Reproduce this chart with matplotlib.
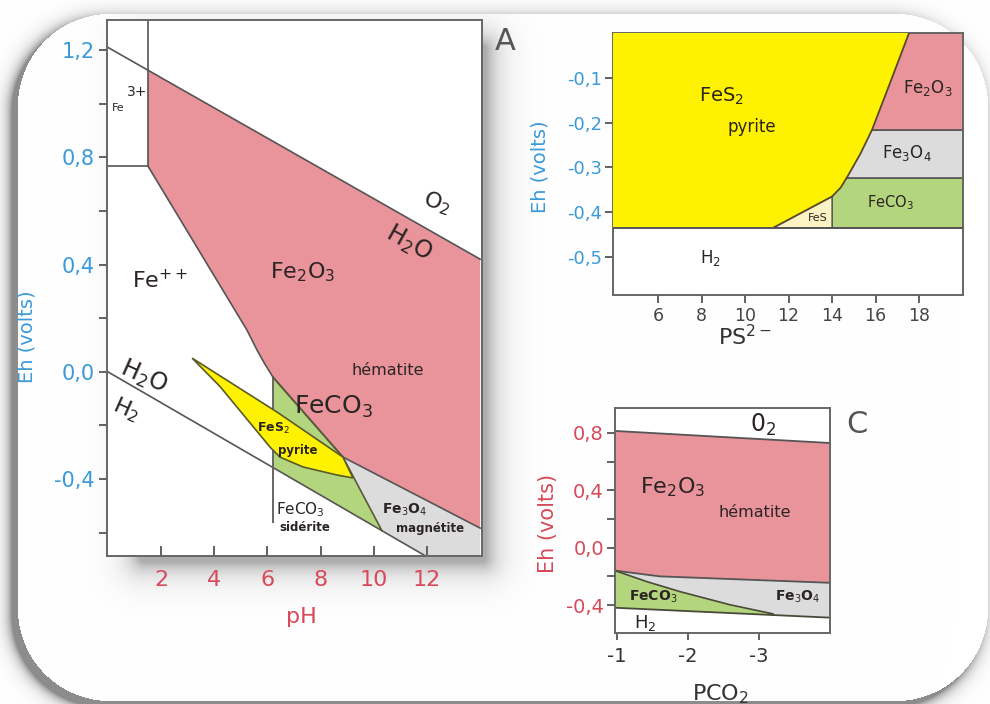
import numpy as np
import matplotlib
matplotlib.use("Agg")
import matplotlib.pyplot as plt

plt.rcParams["font.family"] = ["DejaVu Sans"]

# ---- colours
PINK = "#e8949a"
YELLOW = "#fff200"
GREEN = "#b3d57d"
GREY = "#dcdcdc"
CREAM = "#fcf3c4"
EDGE = "#555555"
BLUE = "#3a9ad9"
RED = "#d64a5a"
INK = "#2b2424"

# ---- panel A : Eh - pH
ph_o2 = [0.0, 14.0]
eh_o2 = [1.21, 0.42]
ph_h2 = [0.0, 14.0]
eh_h2 = [0.0, -0.805]
fe3_ph = 1.51
fe3_eh = 0.767
fe2_edge_ph = [1.51, 5.23, 5.61, 5.9, 6.21]
fe2_edge_eh = [0.767, 0.156, 0.081, 0.03, -0.02]
hem_low_ph = [6.21, 8.84, 14.0]
hem_low_eh = [-0.02, -0.318, -0.583]
sid_mag_ph = [8.84, 10.31]
sid_mag_eh = [-0.318, -0.593]
pyr_top_ph = [3.17, 6.36, 8.84, 9.22]
pyr_top_eh = [0.051, -0.150, -0.318, -0.396]
pyr_bot_ph = [3.17, 4.22, 6.10, 6.47, 7.34, 8.62, 9.22]
pyr_bot_eh = [0.051, -0.055, -0.281, -0.318, -0.355, -0.385, -0.396]
sid_line_ph = 6.21
sid_line_eh = [-0.02, -0.56]
ph_ticks = [2, 4, 6, 8, 10, 12]
a_eh_ticks = [1.2, 0.8, 0.4, 0.0, -0.4]
a_eh_labels = ["1,2", "0,8", "0,4", "0,0", "-0,4"]
a_eh_minor = [1.0, 0.6, 0.2, -0.2, -0.6]

# ---- panel B : Eh - PS2-
b_h2_eh = -0.435
b_fes2_ps = [11.29, 14.0, 14.4, 14.75, 15.3, 15.84, 16.67, 17.54]
b_fes2_eh = [-0.435, -0.365, -0.345, -0.317, -0.27, -0.216, -0.111, 0.0]
b_fes_ps = 14.0
b_hem_eh = -0.217
b_mag_eh = -0.323
ps_ticks = [6, 8, 10, 12, 14, 16, 18]
b_eh_ticks = [-0.1, -0.2, -0.3, -0.4, -0.5]
b_eh_labels = ["-0,1", "-0,2", "-0,3", "-0,4", "-0,5"]

# ---- panel C : Eh - PCO2
c_o2_pco2 = [-0.97, -4.0]
c_o2_eh = [0.814, 0.730]
c_hem_pco2 = [-0.97, -1.6, -4.0]
c_hem_eh = [-0.16, -0.20, -0.245]
c_sid_pco2 = [-0.97, -1.42, -1.89, -2.59, -3.20]
c_sid_eh = [-0.16, -0.237, -0.307, -0.398, -0.462]
c_h2_pco2 = [-0.97, -4.0]
c_h2_eh = [-0.419, -0.488]
pco2_ticks = [-1, -2, -3]
c_eh_ticks = [0.8, 0.4, 0.0, -0.4]
c_eh_labels = ["0,8", "0,4", "0,0", "-0,4"]
c_eh_minor = [0.6, 0.2, -0.2]

W, H = 990, 704
fig = plt.figure(figsize=(9.9, 7.04), dpi=100)


def px_rect(l, t, r, b):
    return [l / W, 1 - b / H, (r - l) / W, (b - t) / H]


def ftext(x, y, s, **kw):
    fig.text(x / W, 1 - y / H, s, ha="center", va="center", **kw)


def rr_dist(xx, yy, x0, y0, x1, y1, r):
    # signed distance to a rounded rectangle
    cx, cy = (x0 + x1) / 2, (y0 + y1) / 2
    qx = np.abs(xx - cx) - ((x1 - x0) / 2 - r)
    qy = np.abs(yy - cy) - ((y1 - y0) / 2 - r)
    out = np.hypot(np.maximum(qx, 0), np.maximum(qy, 0))
    return out + np.minimum(np.maximum(qx, qy), 0) - r


# ---- slide background: rounded card with soft shadows
yy, xx = np.mgrid[0:H, 0:W] + 0.5
d_card = rr_dist(xx, yy, 18, 14, 988, 701, 92)
d_cshadow = rr_dist(xx, yy, 12, 20, 982, 707, 92)
shade_card = 0.45 * np.exp(-np.maximum(d_cshadow, 0) / 6.0)
d_ashadow = rr_dist(xx, yy, 140, 45, 486, 562, 4)
shade_a = 0.32 * np.exp(-np.maximum(d_ashadow, 0) / 13.0)
light = np.where(d_card <= 0, 1 - shade_a, 1 - shade_card)
bg = np.dstack([light, light, light])

ax_bg = fig.add_axes([0, 0, 1, 1], zorder=-10)
ax_bg.imshow(bg, extent=[0, W, H, 0], aspect="auto", interpolation="bilinear")
ax_bg.axis("off")


def style_spines(ax):
    for s in ax.spines.values():
        s.set_color("#666666")
        s.set_linewidth(1.4)


# =================== panel A
axA = fig.add_axes(px_rect(107, 20, 482, 556))
axA.set_xlim(-0.03, 14.07)
axA.set_ylim(-0.687, 1.312)

o2_at_fe3 = np.interp(fe3_ph, ph_o2, eh_o2)
pink_x = [fe3_ph, ph_o2[1], ph_o2[1]] + hem_low_ph[::-1][1:] + fe2_edge_ph[::-1][1:]
pink_y = [o2_at_fe3, eh_o2[1], hem_low_eh[-1]] + hem_low_eh[::-1][1:] + fe2_edge_eh[::-1][1:]
axA.fill(pink_x, pink_y, color=PINK, lw=0)

h2_at_sid = np.interp(sid_line_ph, ph_h2, eh_h2)
axA.fill([sid_line_ph, hem_low_ph[1], sid_mag_ph[1], sid_line_ph],
         [hem_low_eh[0], hem_low_eh[1], sid_mag_eh[1], h2_at_sid], color=GREEN, lw=0)
axA.fill([hem_low_ph[1], hem_low_ph[2], ph_h2[1], sid_mag_ph[1]],
         [hem_low_eh[1], hem_low_eh[2], eh_h2[1], sid_mag_eh[1]], color=GREY, lw=0)
axA.fill(pyr_top_ph + pyr_bot_ph[::-1], pyr_top_eh + pyr_bot_eh[::-1],
         facecolor=YELLOW, edgecolor="#5a5a2a", lw=1.2, zorder=3)

axA.plot(ph_o2, eh_o2, color=EDGE, lw=1.2)
axA.plot(ph_h2, eh_h2, color=EDGE, lw=1.2)
axA.plot([fe3_ph, fe3_ph], [1.312, fe3_eh], color=EDGE, lw=1.2)
axA.plot([0, fe3_ph], [fe3_eh, fe3_eh], color=EDGE, lw=1.2)
axA.plot(fe2_edge_ph, fe2_edge_eh, color=EDGE, lw=1.2)
axA.plot(hem_low_ph, hem_low_eh, color=EDGE, lw=1.2)
axA.plot(sid_mag_ph, sid_mag_eh, color="#5a5a3a", lw=1.2)
axA.plot([sid_line_ph, sid_line_ph], sid_line_eh, color="#666666", lw=1.4)
axA.plot([sid_line_ph, hem_low_ph[1]], [hem_low_eh[0], hem_low_eh[1]], color="#5a5a3a", lw=1.2)

axA.set_xticks(ph_ticks)
axA.set_xticklabels([str(t) for t in ph_ticks])
axA.set_yticks(a_eh_ticks)
axA.set_yticklabels(a_eh_labels)
axA.set_yticks(a_eh_minor, minor=True)
axA.tick_params(axis="x", direction="in", length=7, width=1.3, color="#555555",
                labelsize=16, labelcolor=RED, pad=10)
axA.tick_params(axis="y", which="both", direction="out", length=6, width=1.3,
                color="#555555", labelsize=15, labelcolor=BLUE, pad=3)
style_spines(axA)

axA.text(0.4, 0.985, "Fe", fontsize=8, color=INK, ha="center", va="center")
axA.text(1.1, 1.045, "3+", fontsize=10, color=INK, ha="center", va="center")
axA.text(12.38, 0.63, "O$_2$", fontsize=16, color=INK, rotation=-18, ha="center", va="center")
axA.text(11.3, 0.48, "H$_2$O", fontsize=17, color=INK, rotation=-29, ha="center", va="center")
axA.text(1.96, 0.34, "Fe$^{++}$", fontsize=16, color=INK, ha="center", va="center")
axA.text(7.34, 0.372, "Fe$_2$O$_3$", fontsize=16, color=INK, ha="center", va="center")
axA.text(10.53, 0.006, "hématite", fontsize=11.5, color=INK, ha="center", va="center")
axA.text(8.47, -0.132, "FeCO$_3$", fontsize=18, color=INK, ha="center", va="center", zorder=4)
axA.text(6.21, -0.21, "FeS$_2$", fontsize=9, weight="bold", color=INK, ha="center", va="center", zorder=4)
axA.text(7.15, -0.292, "pyrite", fontsize=8.5, weight="bold", color=INK, ha="center", va="center", zorder=4)
axA.text(1.35, -0.02, "H$_2$O", fontsize=17, color=INK, rotation=-24, ha="center", va="center")
axA.text(0.7, -0.14, "H$_2$", fontsize=16, color=INK, rotation=-24, ha="center", va="center")
axA.text(7.23, -0.516, "FeCO$_3$", fontsize=11, color=INK, ha="center", va="center")
axA.text(7.41, -0.579, "sidérite", fontsize=8.5, weight="bold", color=INK, ha="center", va="center")
axA.text(11.17, -0.516, "Fe$_3$O$_4$", fontsize=10, weight="bold", color=INK, ha="center", va="center")
axA.text(12.11, -0.583, "magnétite", fontsize=8.5, weight="bold", color=INK, ha="center", va="center")

ftext(505, 42, "A", fontsize=22, color="#555555")
ftext(27, 337, "Eh (volts)", fontsize=14, color=BLUE, rotation=90)
ftext(301, 617, "pH", fontsize=16, color=RED)

# =================== panel B
axB = fig.add_axes(px_rect(613, 33, 963, 295))
axB.set_xlim(3.93, 20.02)
axB.set_ylim(-0.585, 0.0)

axB.fill([b_fes_ps, 20.02, 20.02, b_fes_ps], [b_h2_eh, b_h2_eh, b_mag_eh, b_mag_eh],
         facecolor=GREEN, edgecolor=EDGE, lw=1.2)
axB.fill([b_fes_ps, 20.02, 20.02, b_fes_ps], [b_mag_eh, b_mag_eh, b_hem_eh, b_hem_eh],
         facecolor=GREY, edgecolor=EDGE, lw=1.2)
axB.fill([b_fes_ps, 20.02, 20.02, b_fes_ps], [b_hem_eh, b_hem_eh, 0.0, 0.0],
         facecolor=PINK, edgecolor=EDGE, lw=1.2)
axB.fill([b_fes2_ps[0], b_fes_ps, b_fes_ps], [b_h2_eh, b_fes2_eh[1], b_h2_eh],
         facecolor=CREAM, edgecolor=EDGE, lw=1.0, zorder=2)
axB.fill([3.93] + b_fes2_ps + [3.93], [b_h2_eh] + b_fes2_eh + [0.0],
         color=YELLOW, lw=0, zorder=3)
axB.plot(b_fes2_ps, b_fes2_eh, color="#5a4a2a", lw=1.3, zorder=4)
axB.axhline(b_h2_eh, color=EDGE, lw=1.4, zorder=4)

axB.set_xticks(ps_ticks)
axB.set_xticklabels([str(t) for t in ps_ticks])
axB.set_yticks(b_eh_ticks)
axB.set_yticklabels(b_eh_labels)
axB.tick_params(axis="x", direction="out", length=6, width=1.3, color="#555555",
                labelsize=12.5, labelcolor="#444444", pad=3)
axB.tick_params(axis="y", direction="out", length=6, width=1.3, color="#555555",
                labelsize=13, labelcolor=BLUE, pad=2)
style_spines(axB)

axB.text(8.94, -0.142, "FeS$_2$", fontsize=14, color=INK, ha="center", va="center", zorder=5)
axB.text(10.32, -0.21, "pyrite", fontsize=12, color=INK, ha="center", va="center", zorder=5)
axB.text(18.41, -0.122, "Fe$_2$O$_3$", fontsize=12, color=INK, ha="center", va="center", zorder=5)
axB.text(17.45, -0.268, "Fe$_3$O$_4$", fontsize=12, color=INK, ha="center", va="center", zorder=5)
axB.text(16.67, -0.379, "FeCO$_3$", fontsize=10.5, color=INK, ha="center", va="center", zorder=5)
axB.text(13.36, -0.413, "FeS", fontsize=8, color=INK, ha="center", va="center", zorder=5)
axB.text(8.39, -0.502, "H$_2$", fontsize=12, color=INK, ha="center", va="center", zorder=5)

ftext(540, 167, "Eh (volts)", fontsize=14, color=BLUE, rotation=90)
ftext(745, 337, "PS$^{2-}$", fontsize=16, color="#333333")

# =================== panel C
axC = fig.add_axes(px_rect(615, 408, 830, 633))
axC.set_xlim(-0.97, -4.0)
axC.set_ylim(-0.595, 0.974)

axC.fill(c_o2_pco2 + c_hem_pco2[::-1], c_o2_eh + c_hem_eh[::-1], color=PINK, lw=0)
axC.fill(c_hem_pco2 + c_h2_pco2[::-1], c_hem_eh + c_h2_eh[::-1], color=GREY, lw=0)
h2_at_end = np.interp(c_sid_pco2[-1], c_h2_pco2[::-1], c_h2_eh[::-1])
axC.fill(c_sid_pco2 + [c_sid_pco2[-1], c_h2_pco2[0]], c_sid_eh + [h2_at_end, c_h2_eh[0]],
         color=GREEN, lw=0)
axC.plot(c_o2_pco2, c_o2_eh, color=EDGE, lw=1.3)
axC.plot(c_hem_pco2, c_hem_eh, color=EDGE, lw=1.3)
axC.plot(c_sid_pco2 + [c_sid_pco2[-1]], c_sid_eh + [h2_at_end], color="#4a4a3a", lw=1.2)
axC.plot(c_h2_pco2, c_h2_eh, color="#4a4a3a", lw=1.3)

axC.set_xticks(pco2_ticks)
axC.set_xticklabels([str(t) for t in pco2_ticks])
axC.set_yticks(c_eh_ticks)
axC.set_yticklabels(c_eh_labels)
axC.set_yticks(c_eh_minor, minor=True)
axC.tick_params(axis="x", direction="out", length=5, width=1.3, color="#555555",
                labelsize=14, labelcolor="#333333", pad=5)
axC.tick_params(axis="y", which="both", direction="out", length=6, width=1.3,
                color="#555555", labelsize=14, labelcolor=RED, pad=2)
style_spines(axC)

axC.text(-3.06, 0.858, "0$_2$", fontsize=17, color=INK, ha="center", va="center")
axC.text(-1.79, 0.419, "Fe$_2$O$_3$", fontsize=16, color=INK, ha="center", va="center")
axC.text(-2.94, 0.244, "hématite", fontsize=11.5, color=INK, ha="center", va="center")
axC.text(-1.51, -0.342, "FeCO$_3$", fontsize=10, weight="bold", color=INK, ha="center", va="center")
axC.text(-3.54, -0.342, "Fe$_3$O$_4$", fontsize=10, weight="bold", color=INK, ha="center", va="center")
axC.text(-1.39, -0.523, "H$_2$", fontsize=13, color=INK, ha="center", va="center")

ftext(857, 425, "C", fontsize=22, color="#555555")
ftext(548, 523, "Eh (volts)", fontsize=15, color=RED, rotation=90)
ftext(720, 694, "PCO$_2$", fontsize=16, color="#333333")

fig.savefig("out.png", dpi=100)
